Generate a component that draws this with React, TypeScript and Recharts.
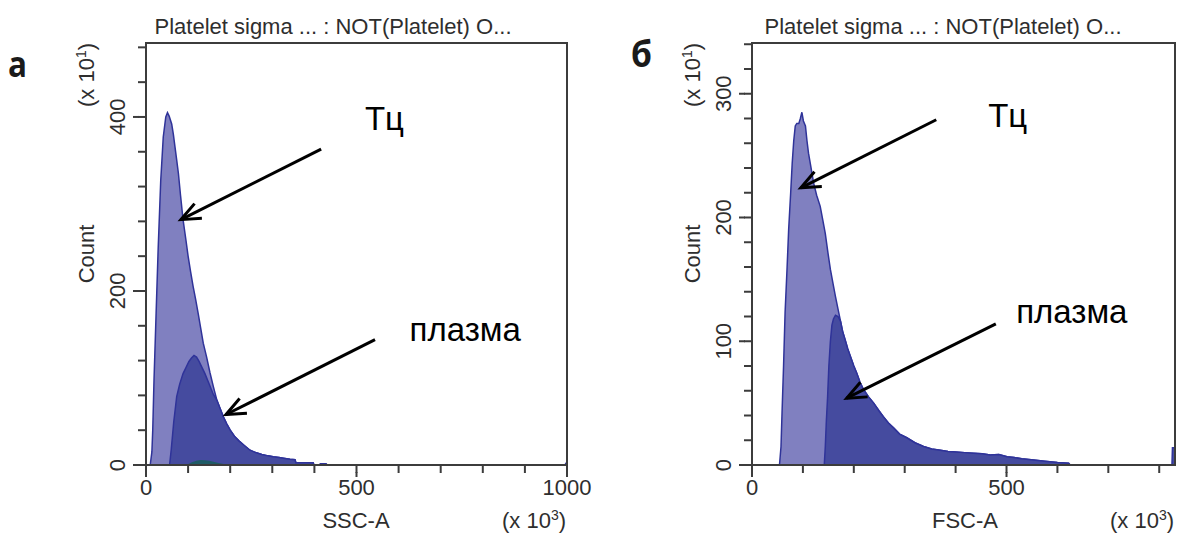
import React from 'react';
import { ComposedChart, Area, XAxis, YAxis, ReferenceLine, ReferenceDot, ReferenceArea } from 'recharts';

const FONT = '"Liberation Sans", Arial, sans-serif';
const TXT = '#2e2e2e';
const AX = '#3c3c3c';
const LIGHT_FILL = '#8080c0';
const DARK_FILL = '#454b9f';
const STROKE = '#2f3399';
const TEAL = '#1f5b66';

// ---------- Panel а : SSC-A ----------
const sscTcX = [10, 14, 16, 19, 24, 29, 35, 41, 47, 51, 55, 61, 65, 69, 73, 77, 82, 88, 95, 100, 106, 112, 118, 124, 130, 136, 144, 152, 160, 168, 176, 184, 192, 200, 210, 220, 232, 247, 262, 275, 290, 302, 316, 330, 342, 354, 356, 397, 399];
const sscTcY = [0, 15, 40, 97, 174, 250, 327, 377, 400, 405, 401, 392, 380, 365, 350, 335, 310, 282, 258, 240, 222, 205, 190, 174, 157, 140, 124, 106, 90, 75, 65, 55, 47, 40, 33, 28, 23, 17, 14, 12, 10.5, 9.5, 8.5, 7.5, 6.5, 6, 2.6, 2.6, 0];
const sscPlX = [56, 60, 66, 73, 80, 88, 95, 102, 108, 114, 120, 126, 132, 140, 150, 160, 168, 176, 184, 192, 200, 210, 220, 232, 247, 262, 275, 290, 302, 316, 330, 342, 354, 356, 397, 399, 412, 414, 428, 430];
const sscPlY = [0, 18, 50, 79, 93, 105, 112, 119, 123, 126, 124, 119, 113, 105, 93, 81, 75, 65, 55, 47, 40, 33, 28, 23, 17, 14, 12, 10.5, 9.5, 8.5, 7.5, 6.5, 6, 2.6, 2.6, 0, 0, 1.5, 1.5, 0];
const sscSmallX = [100, 110, 120, 130, 140, 150, 160, 172, 188];
const sscSmallY = [0, 2.5, 4, 5, 4.5, 4, 3, 1.5, 0];
const sscEdgeX = [995, 1000];
const sscEdgeY = [0, 3.5];
const sscXTicks = [0, 100, 200, 300, 400, 500, 600, 700, 800, 900, 1000];
const sscXLabels = [0, 500, 1000];
const sscYTicks = [0, 40, 80, 120, 160, 200, 240, 280, 320, 360, 400, 440, 480];
const sscYLabels = [0, 200, 400];

// ---------- Panel б : FSC-A ----------
const fscTailX = [178, 183, 188, 193, 200, 206, 212, 219, 229, 239, 249, 258, 268, 278, 290, 304, 320, 337, 353, 370, 385, 400, 418, 435, 452, 468, 485, 501, 515, 530, 553, 575, 600, 622, 625];
const fscTailY = [108, 101, 94, 88, 80, 74, 67, 61, 55, 50, 44, 39, 34, 30, 25, 22, 18, 15, 13, 12, 11, 10.5, 10, 9.5, 9, 8, 8.5, 6.7, 6, 5, 4, 3, 2, 1.5, 0];
const fscTcX = [54, 57, 59, 62, 65, 69, 72, 76, 79, 82, 85, 88, 92, 95, 98, 101, 105, 108, 111, 116, 121, 127, 134, 139, 144, 149, 154, 159, 164, 169, 174].concat(fscTailX);
const fscTcY = [0, 15, 42, 80, 123, 160, 190, 220, 244, 262, 274, 276, 276, 280, 285, 278, 274, 262, 252, 240, 228, 218, 209, 198, 187, 172, 158, 147, 136, 126, 116].concat(fscTailY);
const fscPlX = [142, 144, 146, 148.5, 151, 154, 157, 160, 164, 169, 174].concat(fscTailX);
const fscPlY = [0, 15, 35, 55, 80, 100, 113, 118, 121, 120, 116].concat(fscTailY);
const fscEdgeX = [825, 826, 830];
const fscEdgeY = [0, 14, 14];
const fscXTicks = [0, 100, 200, 300, 400, 500, 600, 700, 800];
const fscXLabels = [0, 500];
const fscYTicks = [0, 20, 40, 60, 80, 100, 120, 140, 160, 180, 200, 220, 240, 260, 280, 300, 320, 340];
const fscYLabels = [0, 100, 200, 300];

type Series = { key: string; xs: number[]; ys: number[]; fill: string; stroke: string };

function buildTable(series: Series[]) {
  const map = new Map<number, any>();
  series.forEach((s) =>
    s.xs.forEach((x, i) => {
      const row = map.get(x) ?? { x };
      row[s.key] = s.ys[i];
      map.set(x, row);
    })
  );
  return Array.from(map.values()).sort((a, b) => a.x - b.x);
}

const TICK = 8;

const makeXTick = (labels: number[]) => (props: any) => {
  const { x, y, payload } = props;
  const major = labels.includes(payload.value);
  return (
    <g>
      {major && <line x1={x} x2={x} y1={y - 1} y2={y + 4} stroke={AX} strokeWidth={2} />}
      {major && (
        <text x={x} y={y + 22} textAnchor="middle" fontFamily={FONT} fontSize={22} fill={TXT}>
          {payload.value}
        </text>
      )}
    </g>
  );
};

const makeYTick = (labels: number[]) => (props: any) => {
  const { x, y, payload } = props;
  const major = labels.includes(payload.value);
  const tx = x - 13;
  return (
    <g>
      {major && <line x1={x - 5} x2={x + 1} y1={y} y2={y} stroke={AX} strokeWidth={2} />}
      {major && (
        <text x={tx} y={y} transform={`rotate(-90, ${tx}, ${y})`} textAnchor="middle" fontFamily={FONT} fontSize={22} fill={TXT}>
          {payload.value}
        </text>
      )}
    </g>
  );
};

const Arrow = (p: any) => {
  const { x1, y1, x2, y2 } = p;
  const ang = Math.atan2(y2 - y1, x2 - x1);
  const L = 21;
  const a = 0.4;
  const ax = x2 - L * Math.cos(ang - a);
  const ay = y2 - L * Math.sin(ang - a);
  const bx = x2 - L * Math.cos(ang + a);
  const by = y2 - L * Math.sin(ang + a);
  return (
    <g>
      <line x1={x1} y1={y1} x2={x2} y2={y2} stroke="#000" strokeWidth={3} />
      <polyline points={`${ax},${ay} ${x2},${y2} ${bx},${by}`} fill="none" stroke="#000" strokeWidth={3} />
    </g>
  );
};

const noteShape = (text: string) => (p: any) => (
  <text x={p.cx} y={p.cy} fontFamily={FONT} fontSize={33} fill="#000">
    {text}
  </text>
);

type Note = { x: number; y: number; text: string };
type ArrowSeg = { x1: number; y1: number; x2: number; y2: number };

function Panel(props: {
  left: number;
  width: number;
  plotLeft: number;
  plotRight: number;
  xMax: number;
  yMax: number;
  xTicks: number[];
  xLabels: number[];
  yTicks: number[];
  yLabels: number[];
  series: Series[];
  arrows: ArrowSeg[];
  notes: Note[];
}) {
  const { left, width, plotLeft, plotRight, xMax, yMax, xTicks, xLabels, yTicks, yLabels, series, arrows, notes } = props;
  const data = buildTable(series);
  return (
    <div style={{ position: 'absolute', left, top: 0 }}>
      <ComposedChart
        width={width}
        height={534}
        data={data}
        margin={{ top: 43, right: width - plotRight, bottom: 29, left: plotLeft - 60 }}
      >
        {series.map((s) => (
          <Area
            key={s.key}
            dataKey={s.key}
            type="linear"
            connectNulls
            fill={s.fill}
            fillOpacity={1}
            stroke={s.stroke}
            strokeWidth={1.5}
            dot={false}
            activeDot={false}
            isAnimationActive={false}
          />
        ))}
        <XAxis
          type="number"
          dataKey="x"
          domain={[0, xMax]}
          ticks={xTicks}
          interval={0}
          allowDataOverflow
          tickLine={{ stroke: AX, strokeWidth: 2 }}
          tickSize={TICK}
          tickMargin={0}
          tick={makeXTick(xLabels)}
          axisLine={{ stroke: AX, strokeWidth: 2 }}
          height={40}
        />
        <YAxis
          type="number"
          domain={[0, yMax]}
          ticks={yTicks}
          interval={0}
          allowDataOverflow
          tickLine={{ stroke: AX, strokeWidth: 2 }}
          tickSize={TICK}
          tickMargin={0}
          tick={makeYTick(yLabels)}
          axisLine={{ stroke: AX, strokeWidth: 2 }}
          width={60}
        />
        <ReferenceArea x1={0} x2={xMax} y1={0} y2={yMax} fill="none" fillOpacity={0} stroke={AX} strokeWidth={2} ifOverflow="visible" />
        {arrows.map((a, i) => (
          <ReferenceLine
            key={'a' + i}
            segment={[
              { x: a.x1, y: a.y1 },
              { x: a.x2, y: a.y2 },
            ]}
            shape={Arrow}
            ifOverflow="visible"
          />
        ))}
        {notes.map((n, i) => (
          <ReferenceDot key={'n' + i} x={n.x} y={n.y} r={0} shape={noteShape(n.text)} ifOverflow="visible" />
        ))}
      </ComposedChart>
    </div>
  );
}

const sscSeries: Series[] = [
  { key: 'tc', xs: sscTcX, ys: sscTcY, fill: LIGHT_FILL, stroke: STROKE },
  { key: 'pl', xs: sscPlX, ys: sscPlY, fill: DARK_FILL, stroke: STROKE },
  { key: 'sm', xs: sscSmallX, ys: sscSmallY, fill: TEAL, stroke: TEAL },
  { key: 'ed', xs: sscEdgeX, ys: sscEdgeY, fill: DARK_FILL, stroke: STROKE },
];
const fscSeries: Series[] = [
  { key: 'tc', xs: fscTcX, ys: fscTcY, fill: LIGHT_FILL, stroke: STROKE },
  { key: 'pl', xs: fscPlX, ys: fscPlY, fill: DARK_FILL, stroke: STROKE },
  { key: 'ed', xs: fscEdgeX, ys: fscEdgeY, fill: DARK_FILL, stroke: STROKE },
];

const sscArrows: ArrowSeg[] = [
  { x1: 416, y1: 363, x2: 83, y2: 282 },
  { x1: 544, y1: 144, x2: 190, y2: 58 },
];
const sscNotes: Note[] = [
  { x: 520, y: 385, text: 'Тц' },
  { x: 626, y: 142, text: 'плазма' },
];
const fscArrows: ArrowSeg[] = [
  { x1: 362, y1: 279, x2: 96, y2: 224 },
  { x1: 479, y1: 114, x2: 186, y2: 54 },
];
const fscNotes: Note[] = [
  { x: 464, y: 273, text: 'Тц' },
  { x: 519, y: 115, text: 'плазма' },
];

const TITLE = 'Platelet sigma ... : NOT(Platelet) O...';

export default function App() {
  return (
    <div style={{ position: 'absolute', left: 0, top: 0, width: 1183, height: 534, background: '#fff', overflow: 'hidden' }}>
      <Panel
        left={0}
        width={620}
        plotLeft={146}
        plotRight={567}
        xMax={1000}
        yMax={485}
        xTicks={sscXTicks}
        xLabels={sscXLabels}
        yTicks={sscYTicks}
        yLabels={sscYLabels}
        series={sscSeries}
        arrows={sscArrows}
        notes={sscNotes}
      />
      <Panel
        left={600}
        width={583}
        plotLeft={152}
        plotRight={575}
        xMax={831}
        yMax={341}
        xTicks={fscXTicks}
        xLabels={fscXLabels}
        yTicks={fscYTicks}
        yLabels={fscYLabels}
        series={fscSeries}
        arrows={fscArrows}
        notes={fscNotes}
      />
      <svg width={1183} height={534} style={{ position: 'absolute', left: 0, top: 0, pointerEvents: 'none' }}>
        <g fontFamily={FONT} fontSize={22} fill={TXT}>
          <text x={333} y={34} textAnchor="middle">{TITLE}</text>
          <text x={943} y={34} textAnchor="middle">{TITLE}</text>

          <text x={94} y={75} textAnchor="middle" transform="rotate(-90, 94, 75)">
            (x 10<tspan dy={-8} fontSize={14}>1</tspan><tspan dy={8}>)</tspan>
          </text>
          <text x={94} y={254} textAnchor="middle" transform="rotate(-90, 94, 254)">Count</text>
          <text x={700} y={75} textAnchor="middle" transform="rotate(-90, 700, 75)">
            (x 10<tspan dy={-8} fontSize={14}>1</tspan><tspan dy={8}>)</tspan>
          </text>
          <text x={700} y={254} textAnchor="middle" transform="rotate(-90, 700, 254)">Count</text>

          <text x={356} y={528} textAnchor="middle">SSC-A</text>
          <text x={534} y={528} textAnchor="middle">
            (x 10<tspan dy={-8} fontSize={14}>3</tspan><tspan dy={8}>)</tspan>
          </text>
          <text x={965} y={528} textAnchor="middle">FSC-A</text>
          <text x={1142} y={528} textAnchor="middle">
            (x 10<tspan dy={-8} fontSize={14}>3</tspan><tspan dy={8}>)</tspan>
          </text>
        </g>
        <g fontFamily='"Open Sans", "Noto Sans", sans-serif' fontWeight={700} fontSize={35} fill="#1a1a1a">
          <text x={8} y={77} textLength={19} lengthAdjust="spacingAndGlyphs">а</text>
          <text x={631} y={67} textLength={21} lengthAdjust="spacingAndGlyphs">б</text>
        </g>
      </svg>
    </div>
  );
}
